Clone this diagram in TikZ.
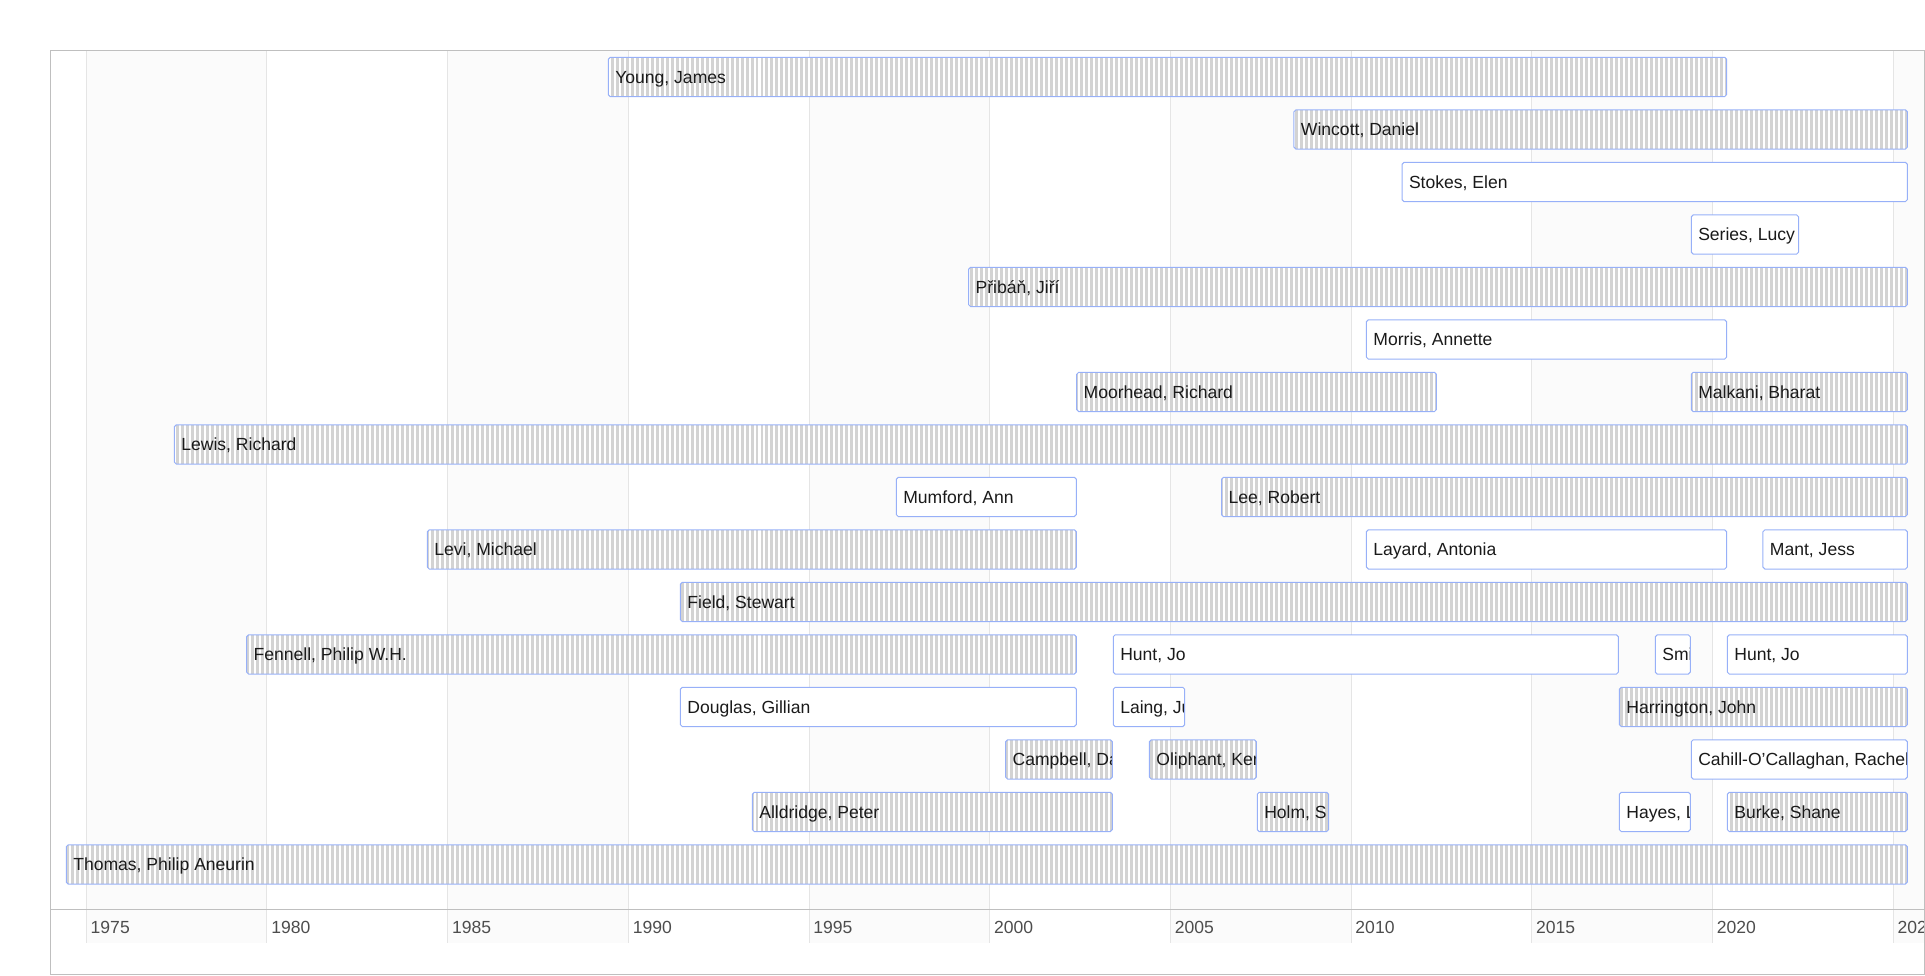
\documentclass[tikz,border=0pt]{standalone}
\usepackage{fontspec}
\setmainfont{Liberation Sans}
\usetikzlibrary{patterns.meta}
\definecolor{itemborder}{HTML}{97B0F8}
\definecolor{stripe}{HTML}{D3D3D3}
\definecolor{band}{HTML}{FBFBFB}
\definecolor{gridc}{HTML}{E5E5E5}
\definecolor{framec}{HTML}{BFBFBF}
\definecolor{axistext}{HTML}{4D4D4D}
\definecolor{itemtext}{HTML}{1A1A1A}
\tikzset{
  itemframe/.style={draw=itemborder, line width=0.81pt, rounded corners=1.6pt},
  hatchitem/.style={fill=stripe, postaction={pattern={Lines[angle=90,distance=4.07pt,line width=1.63pt]}, pattern color=white}},
  plainitem/.style={fill=white},
  itemlabel/.style={anchor=base west, inner sep=0pt, text=itemtext, font=\fontsize{14.3}{16}\selectfont},
  yearlabel/.style={anchor=base west, inner sep=0pt, text=axistext, font=\fontsize{14.3}{16}\selectfont},
  gridline/.style={draw=gridc, line width=0.81pt},
  frameline/.style={draw=framec, line width=0.81pt},
}
\newcommand\tlitem[6]{%
  \pgfmathsetmacro\tly{62.7+42.76*#4}
  \begin{scope}
    \clip[rounded corners=1.6pt] (#2,\tly-16) rectangle (#3,\tly+16);
    \path[#5] (#2,\tly-16) rectangle (#3,\tly+16);
    \node[itemlabel] (#1) at (#2+5.5,\tly+5.1) {#6};
  \end{scope}
  \draw[itemframe] (#2,\tly-16) rectangle (#3,\tly+16);
}
\begin{document}
\begin{tikzpicture}[x=1pt,y=-1pt]
\useasboundingbox (0,0) rectangle (1568,794.2);
% alternating bands
\foreach \k in {0,2,4,6,8} {
  \fill[band] ({70.3+147.17*\k},41) rectangle ({70.3+147.17*(\k+1)},768);
}
\fill[band] (1542,41) rectangle (1567.4,768);
% grid lines
\foreach \k in {0,...,10} {
  \draw[gridline] ({70.3+147.17*\k},41) -- ({70.3+147.17*\k},768);
}
% axis
\coordinate (axl) at (41,741.2);
\coordinate (axr) at (1567.4,741.2);
\draw[frameline] (axl) -- (axr);
% year labels
\begin{scope}
  \clip (41,41) rectangle (1567.4,793.6);
  \foreach \k/\yr in {0/1975,1/1980,2/1985,3/1990,4/1995,5/2000,6/2005,7/2010,8/2015,9/2020,10/2025} {
    \node[yearlabel] (yr\yr) at ({70.3+147.17*\k+3.4},760.2) {\yr};
  }
\end{scope}
% items
\tlitem{young}{495.5}{1406.4}{0}{hatchitem}{Young, James}
\tlitem{wincott}{1054}{1553.6}{1}{hatchitem}{Wincott, Daniel}
\tlitem{stokes}{1142}{1553.6}{2}{plainitem}{Stokes, Elen}
\tlitem{series}{1377.6}{1465}{3}{plainitem}{Series, Lucy}
\tlitem{priban}{789}{1553.6}{4}{hatchitem}{Přibáň, Jiří}
\tlitem{morris}{1113}{1406.4}{5}{plainitem}{Morris, Annette}
\tlitem{moorhead}{877}{1170}{6}{hatchitem}{Moorhead, Richard}
\tlitem{malkani}{1377.6}{1553.6}{6}{hatchitem}{Malkani, Bharat}
\tlitem{lewis}{142}{1553.6}{7}{hatchitem}{Lewis, Richard}
\tlitem{mumford}{730.1}{876.7}{8}{plainitem}{Mumford, Ann}
\tlitem{lee}{995}{1553.6}{8}{hatchitem}{Lee, Robert}
\tlitem{levi}{348.1}{876.7}{9}{hatchitem}{Levi, Michael}
\tlitem{layard}{1113}{1406.4}{9}{plainitem}{Layard, Antonia}
\tlitem{mant}{1436}{1553.6}{9}{plainitem}{Mant, Jess}
\tlitem{field}{554.2}{1553.6}{10}{hatchitem}{Field, Stewart}
\tlitem{fennell}{200.9}{876.7}{11}{hatchitem}{Fennell, Philip W.H.}
\tlitem{hunta}{906.8}{1318.2}{11}{plainitem}{Hunt, Jo}
\tlitem{smi}{1348.3}{1376.8}{11}{plainitem}{Smi}
\tlitem{huntb}{1407}{1553.6}{11}{plainitem}{Hunt, Jo}
\tlitem{douglas}{554.2}{876.7}{12}{plainitem}{Douglas, Gillian}
\tlitem{laing}{906.8}{965}{12}{plainitem}{Laing, Ju}
\tlitem{harrington}{1319}{1553.6}{12}{hatchitem}{Harrington, John}
\tlitem{campbell}{819.1}{906}{13}{hatchitem}{Campbell, Da}
\tlitem{oliphant}{936.2}{1023.3}{13}{hatchitem}{Oliphant, Ker}
\tlitem{cahill}{1377.6}{1553.6}{13}{plainitem}{Cahill-O’Callaghan, Rachel}
\tlitem{alldridge}{612.8}{906}{14}{hatchitem}{Alldridge, Peter}
\tlitem{holm}{1024.1}{1082.2}{14}{hatchitem}{Holm, S}
\tlitem{hayes}{1319}{1376.8}{14}{plainitem}{Hayes, L}
\tlitem{burke}{1407}{1553.6}{14}{hatchitem}{Burke, Shane}
\tlitem{thomas}{54}{1553.6}{15}{hatchitem}{Thomas, Philip Aneurin}
% frame
\draw[frameline] (41,41) rectangle (1567.4,793.6);
\end{tikzpicture}
\end{document}
